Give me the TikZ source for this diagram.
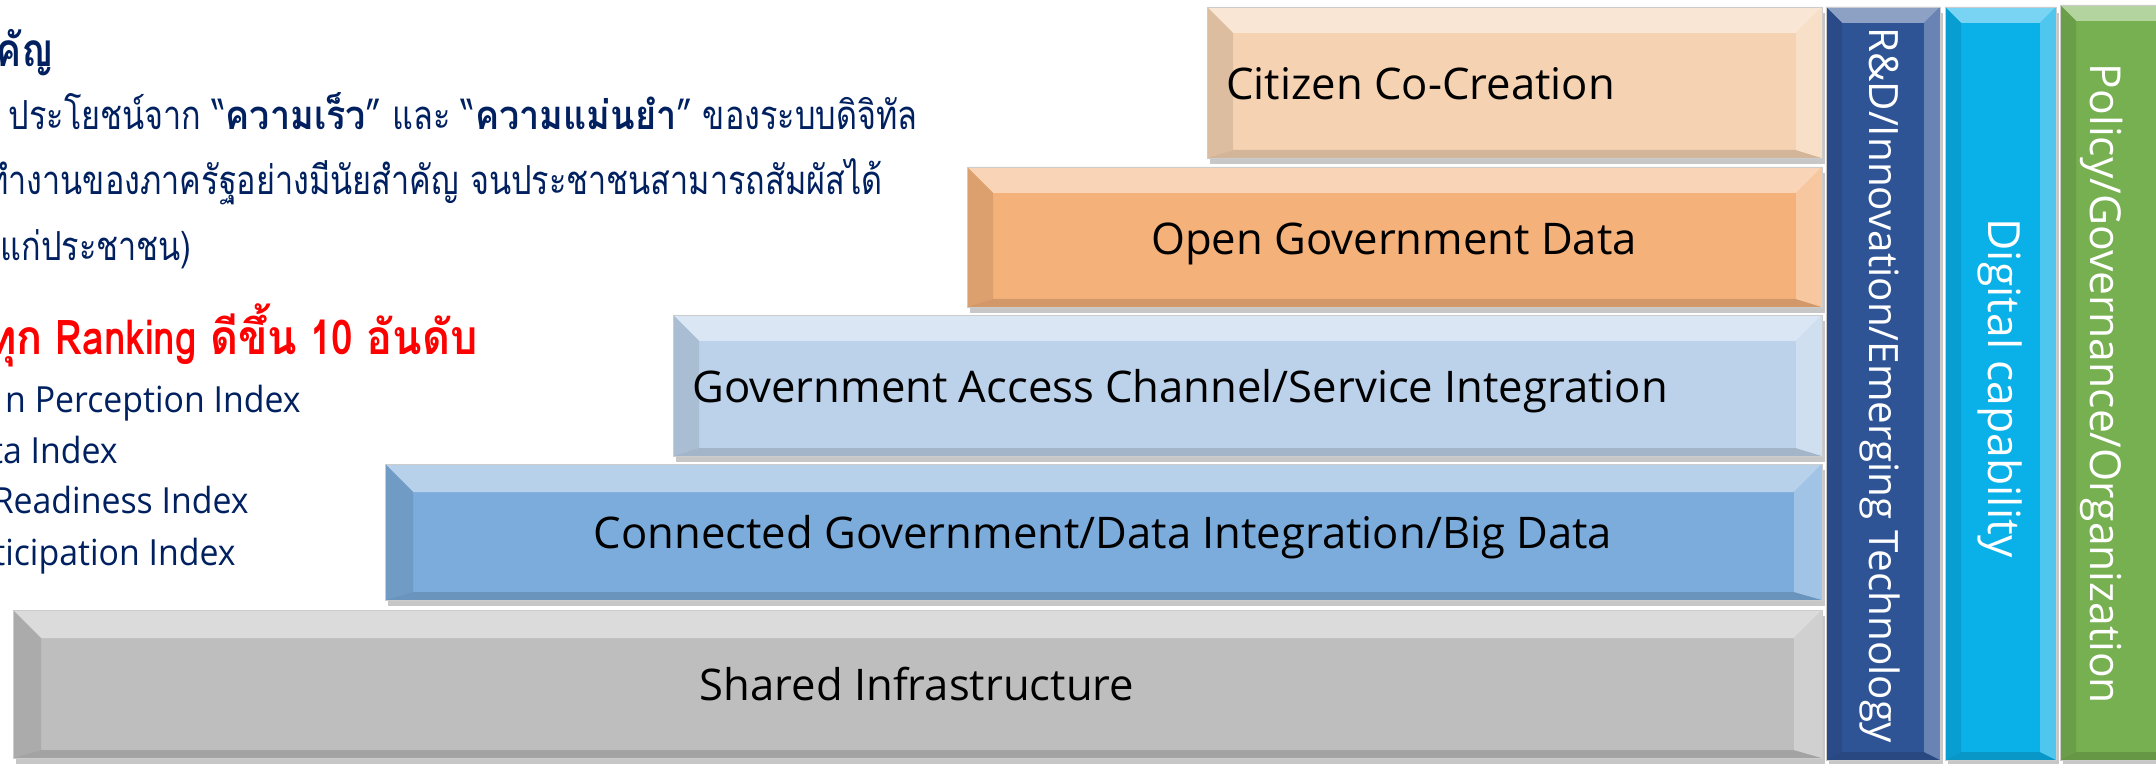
\documentclass[tikz,border=0pt]{standalone}
\usepackage{fontspec}
\usepackage{tikz}
\usepackage{xcolor}
\setmainfont{Open Sans}
\newfontfamily\thaifont[Script=Thai,FakeStretch=0.81]{Loma}
\newfontfamily\thaiwide[Script=Thai,FakeStretch=0.9]{Loma}
\newfontfamily\idxfont[FakeStretch=0.94]{Open Sans}

\definecolor{navytext}{RGB}{0,32,96}
\definecolor{citizenfill}{RGB}{245,210,178}
\definecolor{openfill}{RGB}{244,177,122}
\definecolor{accessfill}{RGB}{188,210,234}
\definecolor{connectfill}{RGB}{124,172,219}
\definecolor{sharedfill}{RGB}{190,190,190}
\definecolor{rndfill}{RGB}{47,84,150}
\definecolor{digitalfill}{RGB}{10,176,232}
\definecolor{policyfill}{RGB}{119,176,80}

% bevelled bar: x1, y1, x2, y2, colour, bevel
\newcommand{\bevelbar}[6]{%
  \fill [black!22] (#1+3,#2+6) rectangle (#3+3,#4+6);
  \fill [#5] (#1,#2) rectangle (#3,#4);
  \fill [#5!55!white] (#1,#2) -- (#3,#2) -- (#3-#6,#2+#6) -- (#1+#6,#2+#6) -- cycle;
  \fill [#5!90!black] (#1,#2) -- (#1+#6,#2+#6) -- (#1+#6,#4-8) -- (#1,#4) -- cycle;
  \fill [#5!86!black] (#1,#4) -- (#1+#6,#4-8) -- (#3-#6,#4-8) -- (#3,#4) -- cycle;
  \fill [#5!72!white] (#3,#2) -- (#3-#6,#2+#6) -- (#3-#6,#4-8) -- (#3,#4) -- cycle;
  \draw [black!20, line width=0.4pt] (#1,#2) rectangle (#3,#4);
}

\tikzset{
  boxtext/.style={inner sep=0pt, font=\fontsize{21.8}{26}\selectfont, text=black},
  coltext/.style={inner sep=0pt, rotate=-90, font=\fontsize{21.3}{26}\selectfont, text=white},
  thaitext/.style={inner sep=0pt, font=\thaifont\fontsize{20}{24}\selectfont, text=navytext},
  headtext/.style={inner sep=0pt, font=\thaifont\bfseries\fontsize{23}{27}\selectfont, text=navytext},
  ranktext/.style={inner sep=0pt, font=\thaifont\bfseries\fontsize{24}{28}\selectfont, text=red},
  idxtext/.style={inner sep=0pt, font=\idxfont\fontsize{18}{22}\selectfont, text=navytext}
}

\begin{document}
\begin{tikzpicture}[x=0.5pt,y=0.5pt,yscale=-1,xscale=1]
    \useasboundingbox (0,0) rectangle (2156,764);

    %Shape: Rectangle [Citizen Co-Creation]
    \bevelbar{1207}{7}{1822}{158}{citizenfill}{26}
    %Shape: Rectangle [Open Government Data]
    \bevelbar{967}{167}{1822}{307}{openfill}{26}
    %Shape: Rectangle [Access Channel]
    \bevelbar{673}{315}{1822}{456}{accessfill}{26}
    %Shape: Rectangle [Connected Government]
    \bevelbar{385}{464}{1822}{600}{connectfill}{28}
    %Shape: Rectangle [Shared Infrastructure]
    \bevelbar{13}{610}{1822}{758}{sharedfill}{28}
    %Shape: Rectangle [columns]
    \bevelbar{1826}{7}{1940}{760}{rndfill}{16}
    \bevelbar{1945}{7}{2056}{760}{digitalfill}{16}
    \bevelbar{2060}{5}{2176}{760}{policyfill}{16}

    % Text Node
    \node [boxtext, anchor=base west] (citizen) at (1226,100) {Citizen Co-Creation};
    % Text Node
    \node [boxtext, anchor=base] (opendata) at (1394,255) {Open Government Data};
    % Text Node
    \node [boxtext, anchor=base west] (access) at (692,402) {Government Access Channel/Service Integration};
    % Text Node
    \node [boxtext, anchor=base] (connected) at (1103,548) {Connected Government/Data Integration/Big Data};
    % Text Node
    \node [boxtext, anchor=base] (shared) at (917,700) {Shared Infrastructure};
    % Text Node
    \node [coltext, font=\fontsize{20.2}{24}\selectfont] (rnd) at (1880,385) {R\&D/Innovation/Emerging Technology};
    % Text Node
    \node [coltext, font=\fontsize{22.2}{26}\selectfont] (digital) at (2000,388) {Digital capability};
    % Text Node
    \node [coltext] (policy) at (2102,384) {Policy/Governance/Organization};

    % Text Node
    \node [headtext, anchor=base east] (head) at (54,67) {คัญ};
    % Text Node
    \node [thaitext, anchor=base east] (gain) at (918,130) {ประโยชน์จาก “{\thaiwide\bfseries ความเร็ว}” และ “{\thaiwide\bfseries ความแม่นยำ}” ของระบบดิจิทัล};
    % Text Node
    \node [thaitext, anchor=base east] (work) at (883,195) {ทำงานของภาครัฐอย่างมีนัยสำคัญ จนประชาชนสามารถสัมผัสได้};
    % Text Node
    \node [thaitext, anchor=base east] (people) at (192,261) {แก่ประชาชน)};
    % Text Node
    \node [ranktext, anchor=base east] (rank) at (478,355) {{\thaiwide ทุก} Ranking {\thaiwide ดีขึ้น} 10 {\thaiwide อันดับ}};
    % Text Node
    \node [idxtext, anchor=base east] (idxa) at (301,413) {n Perception Index};
    % Text Node
    \node [idxtext, anchor=base east] (idxb) at (118,463) {ta Index};
    % Text Node
    \node [idxtext, anchor=base east] (idxc) at (249,513) {Readiness Index};
    % Text Node
    \node [idxtext, anchor=base east] (idxd) at (236,565) {ticipation Index};

\end{tikzpicture}
\end{document}
